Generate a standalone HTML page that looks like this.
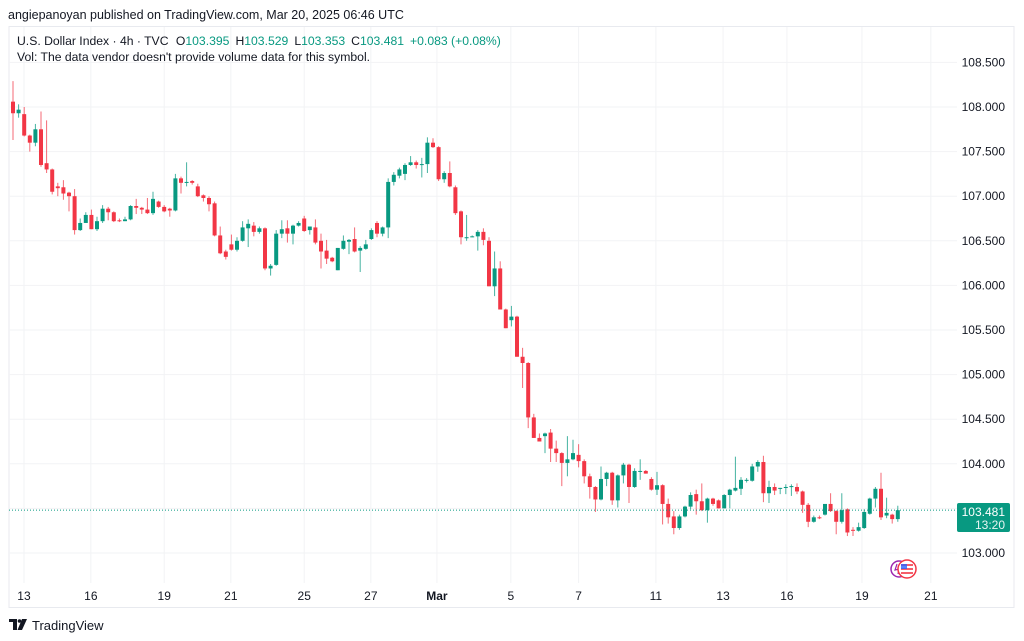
<!DOCTYPE html>
<html><head><meta charset="utf-8">
<style>
html,body{margin:0;padding:0;background:#fff;width:1024px;height:641px;overflow:hidden;font-family:"Liberation Sans",sans-serif;}
svg{display:block}
</style></head>
<body>
<svg id="chart" width="1024" height="641" viewBox="0 0 1024 641" xmlns="http://www.w3.org/2000/svg">
<text x="8" y="19" font-size="12.5" fill="#131722" font-family="Liberation Sans, sans-serif">angiepanoyan published on TradingView.com, Mar 20, 2025 06:46 UTC</text>
<rect x="9" y="26.5" width="1005" height="581" fill="none" stroke="#e8eaef" stroke-width="1"/>
<g id="grid"></g>
<g id="candles"></g>
<line id="lastline" x1="9" x2="957" stroke="#089981" stroke-width="1" stroke-dasharray="1,2"/>
<g id="yaxis"></g>
<g id="xaxis"></g>
<g font-family="Liberation Sans, sans-serif" font-size="12.2">
<text x="17" y="45" fill="#131722">U.S. Dollar Index · 4h · TVC <tspan dx="4">O</tspan><tspan fill="#089981">103.395</tspan><tspan dx="6">H</tspan><tspan fill="#089981">103.529</tspan><tspan dx="6">L</tspan><tspan fill="#089981">103.353</tspan><tspan dx="6">C</tspan><tspan fill="#089981">103.481</tspan><tspan dx="6" fill="#089981">+0.083 (+0.08%)</tspan></text>
<text x="17" y="61" fill="#131722">Vol: The data vendor doesn't provide volume data for this symbol.</text>
</g>
<g>
<rect x="957" y="503" width="53" height="29" rx="2" fill="#089981"/>
<text x="1005" y="516" font-size="12" fill="#fff" text-anchor="end" font-family="Liberation Sans, sans-serif">103.481</text>
<text x="1005" y="529" font-size="12" fill="#fff" text-anchor="end" font-family="Liberation Sans, sans-serif" opacity="0.9">13:20</text>
</g>
<g>
<circle cx="899" cy="569" r="8" fill="#fff" stroke="#9c27b0" stroke-width="1.5"/>
<path d="M897 564 L895 570 L899 569 L898 574" stroke="#9c27b0" stroke-width="1.2" fill="none"/>
<circle cx="907" cy="569" r="9" fill="#fff" stroke="#f23645" stroke-width="1.5"/>
<rect x="901" y="564" width="12" height="10" fill="#f23645" opacity="0.8"/>
<rect x="901" y="566" width="12" height="2" fill="#fff"/>
<rect x="901" y="570" width="12" height="2" fill="#fff"/>
<rect x="901" y="564" width="6" height="5" fill="#2962ff" opacity="0.8"/>
</g>
<g>
<path d="M9 619 H17 V630 H13 V622 H9 Z" fill="#131722"/>
<circle cx="19.5" cy="621" r="1.8" fill="#131722"/>
<path d="M22 619 H27 L22 630 H17.5 Z" fill="#131722"/>
<text x="32" y="630" font-size="13" fill="#131722" font-family="Liberation Sans, sans-serif">TradingView</text>
</g>
</svg>
<script>
const opens=[108.06,107.93,107.92,107.68,107.60,107.75,107.37,107.30,107.11,107.10,107.04,107.00,106.62,106.70,106.79,106.63,106.72,106.86,106.82,106.73,106.72,106.74,106.89,106.87,106.85,106.81,106.94,
106.88,106.86,106.84,107.20,107.15,107.17,107.11,107.01,106.98,106.92,106.56,106.38,106.46,106.40,106.50,106.64,106.67,106.60,106.64,106.19,106.23,106.58,106.64,106.58,106.67,106.75,106.62,106.65,
106.50,106.39,106.31,106.17,106.41,106.49,106.52,106.39,106.41,106.52,106.70,106.58,106.65,107.16,107.23,107.25,107.35,107.38,107.36,107.36,107.60,107.55,107.19,107.26,107.10,106.83,106.54,106.55,106.55,
106.60,106.50,105.99,106.19,105.73,105.61,105.65,105.20,105.13,104.52,104.29,104.31,104.35,104.17,104.12,104.01,104.05,104.10,104.03,103.86,
103.74,103.60,103.83,103.90,103.59,103.87,103.99,103.74,103.92,103.92,103.83,103.71,103.76,103.55,103.41,103.28,103.41,103.52,103.66,103.58,103.48,103.61,103.59,103.50,103.65,103.70,103.72,
103.81,103.81,103.97,104.02,103.67,103.74,103.72,103.73,103.74,103.74,103.69,103.54,103.35,103.40,103.43,103.55,103.47,103.35,103.49,103.26,103.25,103.28,103.44,103.61,103.72,103.42,103.43,103.38];
const highs=[108.29,108.03,108.00,107.69,107.81,107.95,107.85,107.31,107.15,107.18,107.05,107.08,106.75,106.82,106.85,106.77,106.90,106.88,106.83,106.75,106.77,106.90,106.97,106.88,106.98,107.05,106.95,
106.90,106.87,107.25,107.22,107.38,107.18,107.14,107.02,107.00,106.94,106.66,106.40,106.57,106.54,106.72,106.74,106.71,106.66,106.65,106.24,106.62,106.73,106.73,106.68,106.72,106.78,106.66,106.74,
106.58,106.51,106.32,106.42,106.56,106.52,106.65,106.44,106.51,106.64,106.72,106.66,107.20,107.27,107.32,107.37,107.45,107.40,107.43,107.66,107.65,107.56,107.28,107.39,107.12,106.84,106.79,106.56,106.62,
106.64,106.54,106.38,106.27,105.74,105.77,105.66,105.30,105.14,104.56,104.34,104.35,104.39,104.26,104.13,104.31,104.27,104.22,104.05,103.89,
103.75,103.97,103.91,103.91,103.88,104.01,104.00,103.95,104.05,103.93,103.85,103.91,103.77,103.61,103.47,103.43,103.53,103.68,103.71,103.78,103.62,103.62,103.60,103.66,103.72,104.08,103.85,
103.84,104.00,104.04,104.09,103.81,103.78,103.73,103.77,103.77,103.78,103.70,103.56,103.42,103.42,103.55,103.67,103.48,103.67,103.50,103.29,103.34,103.49,103.62,103.74,103.90,103.62,103.44,103.53];
const lows=[107.63,107.88,107.67,107.50,107.56,107.33,107.26,107.02,107.00,106.96,106.83,106.57,106.61,106.70,106.63,106.61,106.70,106.73,106.71,106.71,106.72,106.73,106.80,106.80,106.80,106.79,106.87,
106.82,106.77,106.83,107.03,107.11,107.13,106.99,106.94,106.83,106.55,106.35,106.29,106.39,106.38,106.49,106.43,106.55,106.58,106.17,106.11,106.22,106.53,106.48,106.46,106.66,106.60,106.57,106.46,
106.19,106.24,106.26,106.17,106.40,106.35,106.37,106.15,106.40,106.51,106.54,106.55,106.53,107.12,107.20,107.18,107.34,107.31,107.21,107.26,107.54,107.17,107.15,107.10,106.79,106.46,106.50,106.54,106.39,
106.45,105.99,105.88,105.73,105.52,105.54,105.20,104.85,104.40,104.29,104.25,104.12,104.02,104.02,103.75,103.86,104.04,103.96,103.78,103.61,
103.46,103.59,103.75,103.54,103.51,103.78,103.56,103.73,103.82,103.89,103.70,103.65,103.32,103.33,103.21,103.26,103.40,103.49,103.43,103.47,103.34,103.53,103.50,103.50,103.50,103.69,103.65,
103.79,103.80,103.91,103.57,103.56,103.65,103.66,103.66,103.64,103.66,103.45,103.29,103.34,103.38,103.42,103.46,103.21,103.33,103.19,103.19,103.24,103.27,103.43,103.51,103.37,103.39,103.33,103.35];
const closes=[107.93,107.97,107.68,107.60,107.75,107.35,107.30,107.05,107.09,107.03,107.00,106.62,106.70,106.79,106.63,106.72,106.86,106.82,106.72,106.72,106.74,106.89,106.87,106.85,106.81,106.97,106.88,
106.83,106.84,107.20,107.15,107.16,107.15,107.00,106.98,106.91,106.56,106.36,106.32,106.40,106.50,106.65,106.69,106.60,106.64,106.19,106.22,106.58,106.63,106.58,106.67,106.70,106.61,106.66,106.48,
106.38,106.30,106.27,106.42,106.50,106.51,106.38,106.42,106.46,106.62,106.58,106.65,107.16,107.24,107.30,107.35,107.38,107.35,107.36,107.60,107.55,107.19,107.26,107.11,106.81,106.54,106.54,106.55,106.60,
106.51,105.99,106.19,105.73,105.52,105.65,105.20,105.13,104.52,104.29,104.25,104.34,104.17,104.12,104.01,104.05,104.12,104.03,103.86,103.74,
103.60,103.83,103.90,103.59,103.87,103.99,103.74,103.92,103.92,103.89,103.71,103.76,103.55,103.40,103.28,103.41,103.52,103.65,103.58,103.48,103.61,103.55,103.50,103.65,103.71,103.73,103.82,
103.82,103.97,104.02,103.67,103.74,103.70,103.73,103.74,103.75,103.69,103.54,103.35,103.40,103.39,103.55,103.47,103.35,103.48,103.23,103.25,103.29,103.46,103.61,103.72,103.40,103.45,103.38,103.48];
const priceTicks=[108.5,108.0,107.5,107.0,106.5,106.0,105.5,105.0,104.5,104.0,103.5,103.0];
const dateLabels=["13","16","19","21","25","27","Mar","5","7","11","13","16","19","21"];
const dateIndex=[1.96,13.9,27,38.9,52,63.9,75.7,88.9,101,114.8,126.8,138.2,151.6,163.9];
const lastPrice=103.481;

const NS="http://www.w3.org/2000/svg";
function yScale(p){return 107+(108-p)*89.2;}
function xScale(i){return 13+i*5.6;}
function mk(tag,attrs,parent){const e=document.createElementNS(NS,tag);for(const k in attrs)e.setAttribute(k,attrs[k]);parent.appendChild(e);return e;}

const grid=document.getElementById('grid');
const yaxis=document.getElementById('yaxis');
priceTicks.forEach(function(p){
  const y=yScale(p);
  const gl=mk('line',{x1:9,x2:957,y1:y,y2:y,stroke:'#f2f3f5','stroke-width':1},grid);
  
  
  if(Math.abs(p-lastPrice)>0.1){
    const t=mk('text',{x:1005,y:y+4,'font-size':12,fill:'#131722','text-anchor':'end','font-family':'Liberation Sans, sans-serif'},yaxis);
    t.textContent=p.toFixed(3);
    
    
  }
});
const xaxis=document.getElementById('xaxis');
dateLabels.forEach(function(lbl,k){
  const x=xScale(dateIndex[k]);
  const gl=mk('line',{x1:x,x2:x,y1:27,y2:583,stroke:'#f2f3f5','stroke-width':1},grid);
  
  
  const t=mk('text',{x:x,y:600,'font-size':12,fill:'#131722','text-anchor':'middle','font-family':'Liberation Sans, sans-serif','font-weight':lbl==='Mar'?'bold':'normal'},xaxis);
  t.textContent=lbl;
  
  
});

const cg=document.getElementById('candles');
for(let i=0;i<closes.length;i++){
  const up=closes[i]>=opens[i];
  const col=up?'#089981':'#f23645';
  const x=xScale(i);
  const g=mk('g',{},cg);
  
  
  mk('line',{x1:x,x2:x,y1:yScale(highs[i]),y2:yScale(lows[i]),stroke:col,'stroke-width':1,'stroke-opacity':0.75},g);
  const top=yScale(Math.max(opens[i],closes[i]));
  const bot=yScale(Math.min(opens[i],closes[i]));
  mk('rect',{x:x-2,y:top,width:4,height:Math.max(1,bot-top),fill:col},g);
}
const ll=document.getElementById('lastline');
ll.setAttribute('y1',yScale(lastPrice));
ll.setAttribute('y2',yScale(lastPrice));
</script>
</body></html>
